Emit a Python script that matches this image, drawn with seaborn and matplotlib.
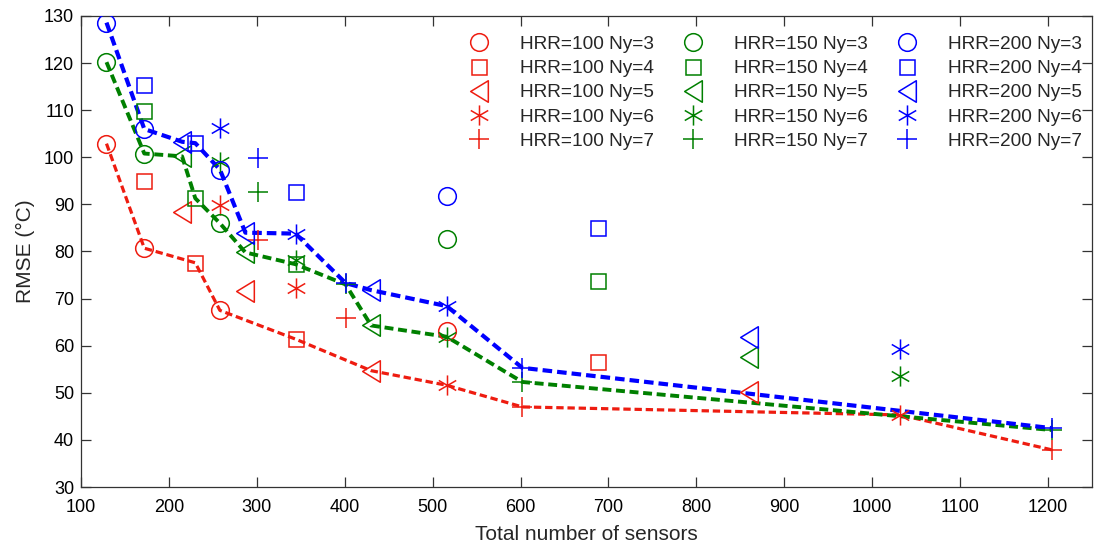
import numpy as np
import pandas as pd
import matplotlib
matplotlib.use("Agg")
import matplotlib.pyplot as plt
from matplotlib.path import Path
from matplotlib.lines import Line2D
import seaborn as sns

# Total number of sensors for each vertical sensor count Ny
ny_values = [3, 4, 5, 6, 7]
sensors_ny3 = [129, 172, 258, 516]
sensors_ny4 = [172, 230, 344, 688]
sensors_ny5 = [215, 287, 430, 860]
sensors_ny6 = [258, 344, 516, 1032]
sensors_ny7 = [301, 401, 602, 1204]

# RMSE (°C) for each heat release rate and Ny
hrr_values = [100, 150, 200]
rmse_100_ny3 = [102.9, 80.7, 67.5, 63.1]
rmse_100_ny4 = [95.0, 77.6, 61.4, 56.5]
rmse_100_ny5 = [88.4, 71.7, 54.7, 50.1]
rmse_100_ny6 = [89.9, 72.2, 51.6, 45.3]
rmse_100_ny7 = [82.4, 65.8, 47.0, 37.9]

rmse_150_ny3 = [120.2, 100.8, 86.0, 82.6]
rmse_150_ny4 = [109.9, 91.3, 77.3, 73.7]
rmse_150_ny5 = [100.2, 79.8, 64.3, 57.5]
rmse_150_ny6 = [98.9, 78.2, 61.9, 53.6]
rmse_150_ny7 = [92.6, 73.0, 52.3, 42.1]

rmse_200_ny3 = [128.6, 106.0, 97.4, 91.8]
rmse_200_ny4 = [115.4, 103.0, 92.6, 84.9]
rmse_200_ny5 = [103.3, 84.0, 71.8, 61.9]
rmse_200_ny6 = [106.2, 83.8, 68.4, 59.2]
rmse_200_ny7 = [99.8, 73.3, 55.3, 42.5]

x_ticks = list(range(100, 1201, 100))
y_ticks = list(range(30, 131, 10))

sensors = {3: sensors_ny3, 4: sensors_ny4, 5: sensors_ny5, 6: sensors_ny6, 7: sensors_ny7}
rmse = {
    100: [rmse_100_ny3, rmse_100_ny4, rmse_100_ny5, rmse_100_ny6, rmse_100_ny7],
    150: [rmse_150_ny3, rmse_150_ny4, rmse_150_ny5, rmse_150_ny6, rmse_150_ny7],
    200: [rmse_200_ny3, rmse_200_ny4, rmse_200_ny5, rmse_200_ny6, rmse_200_ny7],
}

rows = []
for hrr in hrr_values:
    for ny, vals in zip(ny_values, rmse[hrr]):
        for n, v in zip(sensors[ny], vals):
            rows.append({"HRR": hrr, "Ny": ny, "sensors": n, "rmse": v})
df = pd.DataFrame(rows)

colors = {100: "#ee1c10", 150: "#008000", 200: "#0000ff"}
line_widths = {100: 2.3, 150: 2.8, 200: 3.0}

# MATLAB-like marker shapes
tri_left = Path([(-0.82, 0.0), (0.82, 1.0), (0.82, -1.0), (-0.82, 0.0)],
                [Path.MOVETO, Path.LINETO, Path.LINETO, Path.CLOSEPOLY])
c30, s30 = np.cos(np.pi / 6), np.sin(np.pi / 6)
asterisk = Path([(0, -1), (0, 1), (-c30, -s30), (c30, s30), (-c30, s30), (c30, -s30)],
                [Path.MOVETO, Path.LINETO] * 3)
marker_style = {
    3: dict(marker="o", ms=12.7),
    4: dict(marker="s", ms=10.8),
    5: dict(marker=tri_left, ms=15.5),
    6: dict(marker=asterisk, ms=14.5),
    7: dict(marker="+", ms=14.5),
}

sns.set_style("ticks")
plt.rcParams["font.family"] = ["Liberation Sans", "DejaVu Sans"]

fig = plt.figure(figsize=(10.95, 5.48), dpi=100)
ax = fig.add_axes([81 / 1095, 1 - 487 / 548, 1011 / 1095, 471 / 548])

# Lower envelope: best RMSE reachable with at most a given number of sensors
for hrr in hrr_values:
    sub = df[df["HRR"] == hrr].groupby("sensors", as_index=False)["rmse"].min()
    sub = sub.sort_values("sensors")
    prev_best = sub["rmse"].cummin().shift(1, fill_value=np.inf)
    front = sub[sub["rmse"] < prev_best]
    sns.lineplot(data=front, x="sensors", y="rmse", ax=ax, color=colors[hrr],
                 lw=line_widths[hrr], linestyle=(0, (2.3, 1.2)), estimator=None,
                 sort=True, legend=False, zorder=2)

# Individual configurations
handles, labels = [], []
for hrr in hrr_values:
    for ny in ny_values:
        sub = df[(df["HRR"] == hrr) & (df["Ny"] == ny)]
        st = marker_style[ny]
        sns.lineplot(data=sub, x="sensors", y="rmse", ax=ax, linestyle="none",
                     marker=st["marker"], markersize=st["ms"], markerfacecolor="none",
                     markeredgecolor=colors[hrr], markeredgewidth=1.1,
                     estimator=None, legend=False, zorder=3)
        handles.append(Line2D([], [], linestyle="none", marker=st["marker"],
                              markersize=st["ms"], markerfacecolor="none",
                              markeredgecolor=colors[hrr], markeredgewidth=1.1))
        labels.append(f"HRR={hrr} Ny={ny}")

ax.set_xlim(100, 1250)
ax.set_ylim(30, 130)
ax.set_xticks(x_ticks)
ax.set_yticks(y_ticks)
ax.tick_params(direction="in", length=7, width=0.9, colors="#333333",
               labelcolor="black", labelsize=13, top=True, right=True, pad=5)
ax.tick_params(axis="x", pad=9)
for sp in ax.spines.values():
    sp.set_visible(True)
    sp.set_color("#333333")
    sp.set_linewidth(0.9)

ax.set_xlabel("Total number of sensors", fontsize=15, labelpad=6)
ax.set_ylabel("RMSE (°C)", fontsize=15, labelpad=6)

ax.legend(handles, labels, ncol=3, loc="upper right", bbox_to_anchor=(0.990, 0.958),
          frameon=False, fontsize=13.7, handlelength=2.0, handletextpad=1.15,
          columnspacing=1.05, labelspacing=0.36, borderpad=0.0, borderaxespad=0.0)

fig.savefig("out.png", dpi=100)
